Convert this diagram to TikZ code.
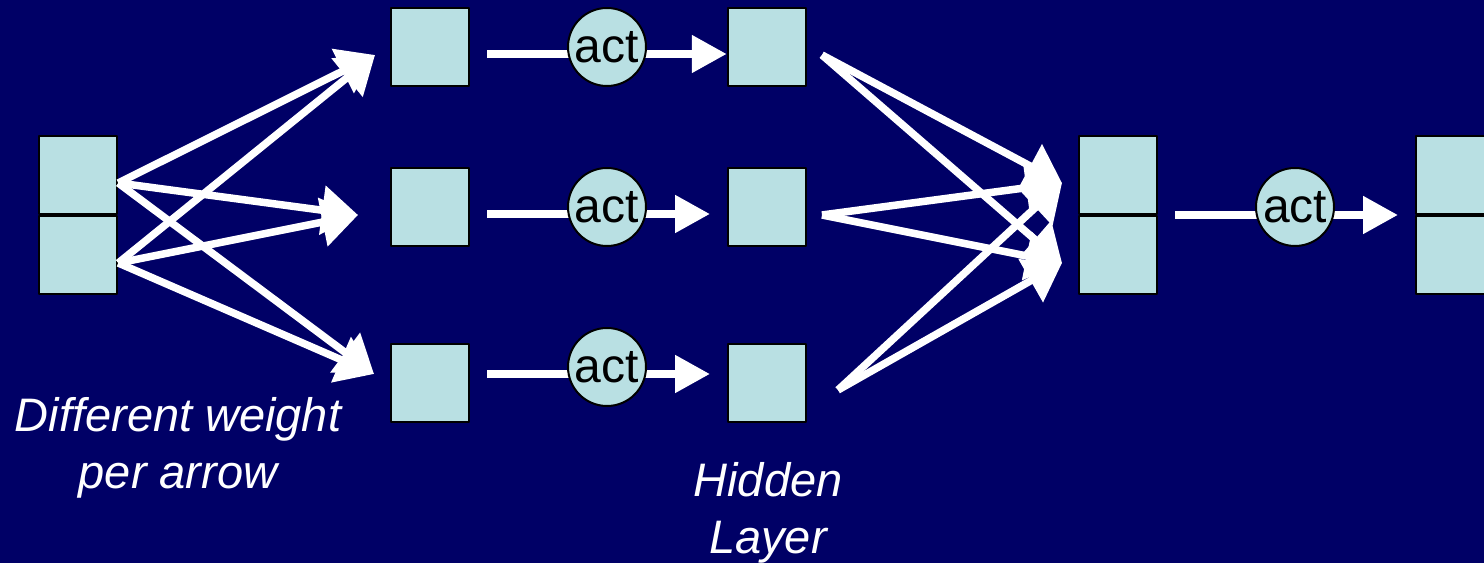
\documentclass[tikz,border=0pt]{standalone}
\usepackage{fontspec}
\setmainfont{Liberation Sans}
\usetikzlibrary{arrows.meta}
\definecolor{slidebg}{RGB}{0,0,102}
\definecolor{cellfill}{RGB}{185,224,227}
\pgfdeclarelayer{back}
\pgfsetlayers{back,main}
\tikzset{
  cell/.style={draw=black,fill=cellfill,line width=2.5bp,minimum size=78bp,inner sep=0pt},
  actnode/.style={circle,draw=black,fill=cellfill,line width=2bp,minimum size=78bp,inner sep=0pt,font=\fontsize{48bp}{50bp}\selectfont},
  flow/.style={white,line width=8bp,-{Triangle[length=35bp,width=36bp]}},
  fan/.style={white,line width=7.5bp,-{Triangle[length=36bp,width=48bp]}},
  caption/.style={white,align=center,font=\fontsize{47bp}{57bp}\selectfont\itshape},
}
\begin{document}
\begin{tikzpicture}[>=latex,line join=bevel,]
%%
\path [use as bounding box] (0bp,0bp) rectangle (1484bp,563bp);
\node (in_0) at (78bp,388bp) [cell] {};
  \node (in_1) at (78bp,308bp) [cell] {};
  \node (sum_0) at (430bp,516bp) [cell] {};
  \node (sum_1) at (430bp,356bp) [cell] {};
  \node (sum_2) at (430bp,180bp) [cell] {};
  \node (act_0) at (607bp,516bp) [actnode] {act};
  \node (act_1) at (607bp,356bp) [actnode] {act};
  \node (act_2) at (607bp,196bp) [actnode] {act};
  \node (hid_0) at (767bp,516bp) [cell] {};
  \node (hid_1) at (767bp,356bp) [cell] {};
  \node (hid_2) at (767bp,180bp) [cell] {};
  \node (out_0) at (1118bp,388bp) [cell] {};
  \node (out_1) at (1118bp,308bp) [cell] {};
  \node (act_3) at (1295bp,356bp) [actnode] {act};
  \node (res_0) at (1455bp,388bp) [cell] {};
  \node (res_1) at (1455bp,308bp) [cell] {};
  \node (lbl_0) at (178bp,115bp) [caption] {Different weight\\per arrow};
  \node (lbl_1) at (768bp,50bp) [caption] {Hidden\\Layer};
%
  \coordinate (pre_0) at (487bp,509bp);
  \coordinate (pre_1) at (487bp,349bp);
  \coordinate (pre_2) at (487bp,189bp);
  \coordinate (pre_3) at (1175bp,348bp);
  \coordinate (tip_1) at (710bp,349bp);
  \coordinate (tip_2) at (710bp,189bp);
  \coordinate (tip_3) at (1398bp,348bp);
  \coordinate (in_tip_0) at (375bp,508bp);
  \coordinate (in_tip_1) at (358bp,348bp);
  \coordinate (in_tip_2) at (374bp,189bp);
  \coordinate (hid_src_0) at (822bp,508bp);
  \coordinate (hid_src_1) at (822bp,348bp);
  \coordinate (hid_src_2) at (838bp,173bp);
  \coordinate (out_tip_0) at (1062bp,380bp);
  \coordinate (out_tip_1) at (1062bp,300bp);
%
\begin{pgfonlayer}{back}
  \fill [slidebg] (0bp,0bp) rectangle (1484bp,563bp);
  \draw [flow] (pre_0) -- (hid_0.west |- pre_0);
  \draw [flow] (pre_1) -- (tip_1);
  \draw [flow] (pre_2) -- (tip_2);
  \draw [flow] (pre_3) -- (tip_3);
\end{pgfonlayer}
%
  \draw [fan] ([yshift=-8bp]in_0.east) -- (in_tip_0);
  \draw [fan] ([yshift=-8bp]in_1.east) -- (in_tip_0);
  \draw [fan] ([yshift=-8bp]in_0.east) -- (in_tip_1);
  \draw [fan] ([yshift=-8bp]in_1.east) -- (in_tip_1);
  \draw [fan] ([yshift=-8bp]in_0.east) -- (in_tip_2);
  \draw [fan] ([yshift=-8bp]in_1.east) -- (in_tip_2);
  \draw [fan] (hid_src_0) -- (out_tip_0);
  \draw [fan] (hid_src_0) -- (out_tip_1);
  \draw [fan] (hid_src_1) -- (out_tip_0);
  \draw [fan] (hid_src_1) -- (out_tip_1);
  \draw [fan] (hid_src_2) -- (out_tip_0);
  \draw [fan] (hid_src_2) -- (out_tip_1);
%
\end{tikzpicture}
\end{document}
